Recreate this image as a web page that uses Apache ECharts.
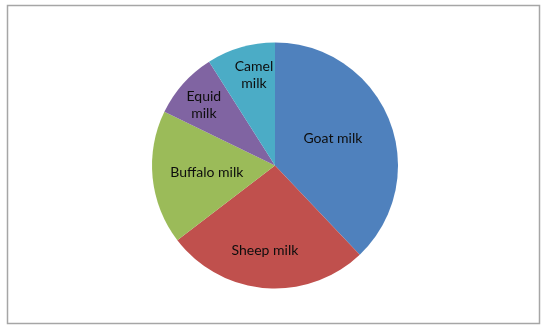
<!DOCTYPE html>
<html>
<head>
<meta charset="utf-8">
<script src="https://cdn.jsdelivr.net/npm/echarts@6/dist/echarts.min.js"></script>
<style>
  html, body { margin: 0; padding: 0; background: #fff; }
  #chart { width: 550px; height: 330px; }
</style>
</head>
<body>
<div id="chart"></div>
<script>
// share of world milk production (%)
var categories = ['Goat milk', 'Sheep milk', 'Buffalo milk', 'Equid milk', 'Camel milk'];
var labelText = ['Goat milk', 'Sheep milk', 'Buffalo milk', 'Equid\nmilk', 'Camel\nmilk'];
var values = [37.9, 26.7, 17.6, 8.8, 9.0];
var colors = ['#4f81bd', '#c0504d', '#9bbb59', '#8064a2', '#4bacc6'];

// nudges so the labels sit where the original put them
var labelOffsets = [[-2, -3], [-5, 21], [-4, 1], [-23, -18], [-3, -29]];

function milkChart(){
	var dom = document.getElementById("chart");
	var myChart = echarts.init(dom);
	var option = null;

	var data = categories.map(function (name, i) {
		return {
			name: name,
			value: values[i],
			itemStyle: { color: colors[i] },
			label: { formatter: labelText[i], offset: labelOffsets[i] }
		};
	});

	option = {
	    backgroundColor: '#fff',
	    animation: false,
	    graphic: [{
	        type: 'rect',
	        shape: { x: 7.5, y: 5.5, width: 532, height: 318 },
	        style: { fill: 'none', stroke: '#a6a6a6', lineWidth: 1.5 },
	        z: -1
	    }],
	    series: [{
	        type: 'pie',
	        center: [275, 165.5],
	        radius: [0, 123],
	        startAngle: 90,
	        clockwise: true,
	        data: data,
	        label: {
	            show: true,
	            position: 'inside',
	            color: '#0d0d0d',
	            fontFamily: 'Lato, "Open Sans", sans-serif',
	            fontSize: 14,
	            lineHeight: 17,
	            align: 'center'
	        },
	        labelLine: { show: false },
	        itemStyle: { borderWidth: 0 },
	        emphasis: { disabled: true }
	    }]
	};

	if (option && typeof option === "object") {
	    myChart.setOption(option, true);
	}
}

milkChart();
</script>
</body>
</html>
